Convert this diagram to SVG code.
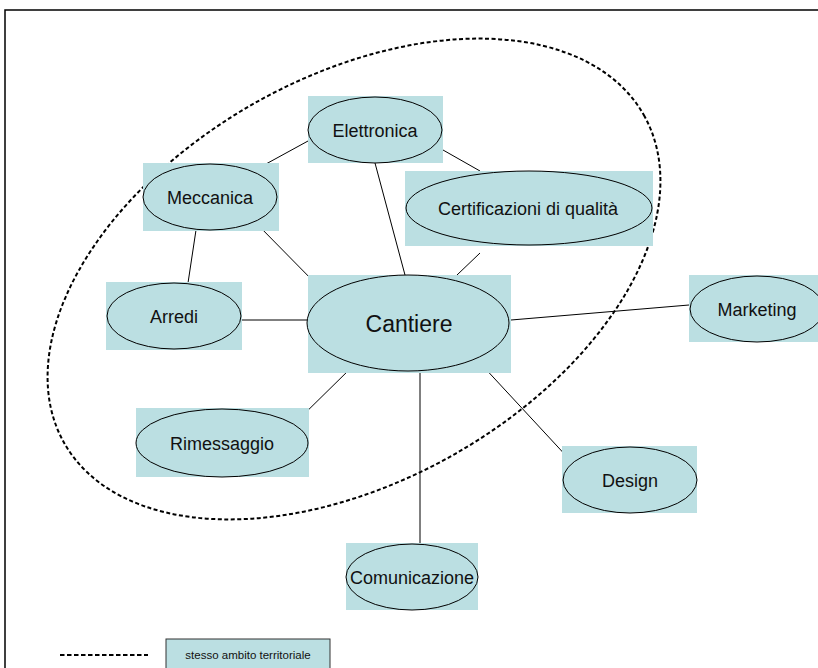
<svg xmlns="http://www.w3.org/2000/svg" width="818" height="668" viewBox="0 0 818 668">
<style>
.bg{fill:#bbdfe2}
.el{fill:#bbdfe2;stroke:#000;stroke-width:1}
.lbl{font-family:"Liberation Sans",Arial,sans-serif;font-size:18px;fill:#111;text-anchor:middle}
.cn line{stroke:#000;stroke-width:1}
</style>
<rect x="0" y="0" width="818" height="668" fill="#fff"/>
<rect x="5" y="10" width="830" height="680" fill="none" stroke="#000" stroke-width="1.5"/>
<ellipse id="area" cx="354" cy="279" rx="333" ry="202" transform="rotate(-29.5 354 279)" fill="none" stroke="#000" stroke-width="2" stroke-dasharray="4 2.5"/>
<g id="connectors" class="cn">
<line x1="308" y1="141" x2="255" y2="170"/>
<line x1="196" y1="230" x2="188" y2="283"/>
<line x1="255" y1="222" x2="322" y2="290"/>
<line x1="375" y1="163" x2="405" y2="275"/>
<line x1="443" y1="150" x2="480" y2="171"/>
<line x1="480" y1="253" x2="457" y2="275"/>
<line x1="242" y1="320" x2="308" y2="320"/>
<line x1="511" y1="320" x2="689" y2="305"/>
<line x1="353" y1="366" x2="294" y2="424"/>
<line x1="420" y1="371" x2="420" y2="543"/>
<line x1="481" y1="364" x2="570" y2="460"/>
</g>
<g id="elettronica"><rect class="bg" x="308" y="96" width="135" height="67"/><ellipse class="el" cx="375" cy="130" rx="67" ry="33"/><text class="lbl" x="375" y="137">Elettronica</text></g>
<g id="meccanica"><rect class="bg" x="143" y="163" width="136" height="68"/><ellipse class="el" cx="210" cy="197" rx="67" ry="33"/><text class="lbl" x="210" y="204">Meccanica</text></g>
<g id="certificazioni"><rect class="bg" x="405" y="171" width="248" height="75"/><ellipse class="el" cx="529" cy="208" rx="123" ry="37"/><text class="lbl" x="528" y="215">Certificazioni di qualità</text></g>
<g id="cantiere"><rect class="bg" x="308" y="275" width="203" height="98"/><ellipse class="el" cx="408" cy="323" rx="101" ry="48"/><text class="lbl" x="409" y="332" style="font-size:23px">Cantiere</text></g>
<g id="marketing"><rect class="bg" x="689" y="275" width="140" height="67"/><ellipse class="el" cx="757" cy="309" rx="67" ry="33"/><text class="lbl" x="757" y="316">Marketing</text></g>
<g id="arredi"><rect class="bg" x="106" y="282" width="136" height="68"/><ellipse class="el" cx="174" cy="316" rx="67" ry="33"/><text class="lbl" x="174" y="323">Arredi</text></g>
<g id="rimessaggio"><rect class="bg" x="136" y="408" width="173" height="69"/><ellipse class="el" cx="222" cy="443" rx="86" ry="34"/><text class="lbl" x="222" y="450">Rimessaggio</text></g>
<g id="design"><rect class="bg" x="562" y="446" width="135" height="67"/><ellipse class="el" cx="630" cy="480" rx="67" ry="33"/><text class="lbl" x="630" y="487">Design</text></g>
<g id="comunicazione"><rect class="bg" x="346" y="543" width="132" height="67"/><ellipse class="el" cx="412" cy="577" rx="66" ry="33"/><text class="lbl" x="412" y="584">Comunicazione</text></g>
<g id="legend">
<line x1="60" y1="655" x2="148" y2="655" stroke="#000" stroke-width="2" stroke-dasharray="4.5 2.5"/>
<rect class="bg" x="166" y="639" width="164" height="40" stroke="#333" stroke-width="1"/>
<text class="lbl" x="248" y="659" style="font-size:11.5px">stesso ambito territoriale</text>
</g>
</svg>
